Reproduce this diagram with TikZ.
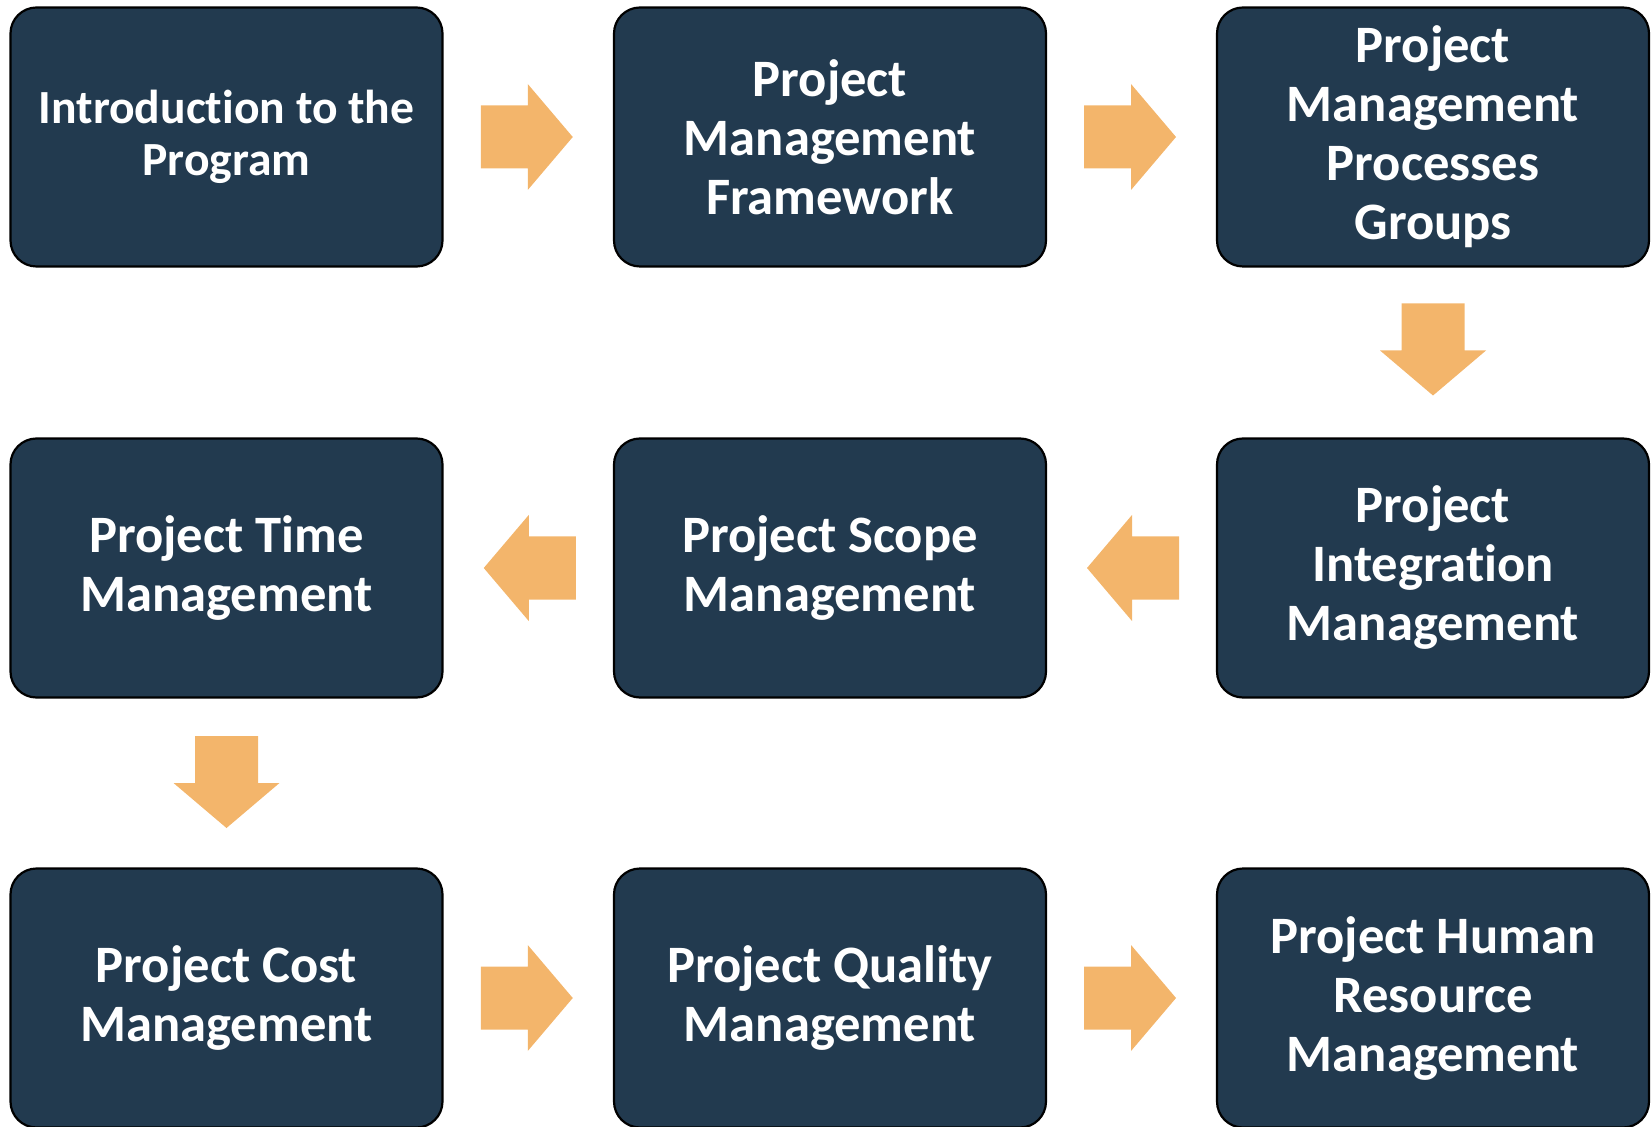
\documentclass[tikz,border=0pt]{standalone}
\usepackage{fontspec}
\setmainfont{Carlito}[Ligatures=NoCommon]
\usetikzlibrary{calc}
\definecolor{boxfill}{RGB}{34,58,79}
\definecolor{arrowfill}{RGB}{243,181,107}
\tikzset{
  stagebox/.style={draw=black, line width=1.1pt, fill=boxfill, rounded corners=13pt,
    minimum width=216pt, minimum height=129.5pt, inner sep=0pt,
    text=white, align=center, font=\fontsize{26.3}{29.5}\selectfont\bfseries},
  smalltext/.style={font=\fontsize{23.8}{26.3}\selectfont\bfseries},
  blockarrow/.style={fill=arrowfill, draw=none},
}
% #1 = centre coordinate, #2 = direction angle
\newcommand\blockarr[2]{%
  \fill[blockarrow, shift={(#1)}, rotate=#2]
    (-23pt,-15.75pt) -- (0.5pt,-15.75pt) -- (0.5pt,-26.5pt) -- (23pt,0pt)
    -- (0.5pt,26.5pt) -- (0.5pt,15.75pt) -- (-23pt,15.75pt) -- cycle;}
\begin{document}
\begin{tikzpicture}[x=0.5pt,y=-0.5pt]
\useasboundingbox (0,0) rectangle (1652,1127);
\node[stagebox, smalltext] (b1) at (226.5,137) {Introduction to the\\Program};
\node[stagebox] (b2) at (830,137) {Project\\Management\\Framework};
\node[stagebox] (b3) at (1433,137) {Project\\Management\\Processes\\Groups};
\node[stagebox] (b4) at (1433,568) {Project\\Integration\\Management};
\node[stagebox] (b5) at (830,568) {Project Scope\\Management};
\node[stagebox] (b6) at (226.5,568) {Project Time\\Management};
\node[stagebox] (b7) at (226.5,998) {Project Cost\\Management};
\node[stagebox] (b8) at (830,998) {Project Quality\\Management};
\node[stagebox] (b9) at (1433,998) {Project Human\\Resource\\Management};
\coordinate (m12) at ($(b1.east)!0.5!(b2.west)+(-1.5,0)$);
\coordinate (m23) at ($(b2.east)!0.5!(b3.west)+(-1.5,0)$);
\coordinate (m34) at ($(b3.south)!0.5!(b4.north)+(0,-3)$);
\coordinate (m45) at ($(b4.west)!0.5!(b5.east)+(1.5,0)$);
\coordinate (m56) at ($(b5.west)!0.5!(b6.east)+(1.5,0)$);
\coordinate (m67) at ($(b6.south)!0.5!(b7.north)+(0,-1)$);
\coordinate (m78) at ($(b7.east)!0.5!(b8.west)+(-1.5,0)$);
\coordinate (m89) at ($(b8.east)!0.5!(b9.west)+(-1.5,0)$);
\blockarr{m12}{0}
\blockarr{m23}{0}
\blockarr{m34}{-90}
\blockarr{m45}{180}
\blockarr{m56}{180}
\blockarr{m67}{-90}
\blockarr{m78}{0}
\blockarr{m89}{0}
\end{tikzpicture}
\end{document}
